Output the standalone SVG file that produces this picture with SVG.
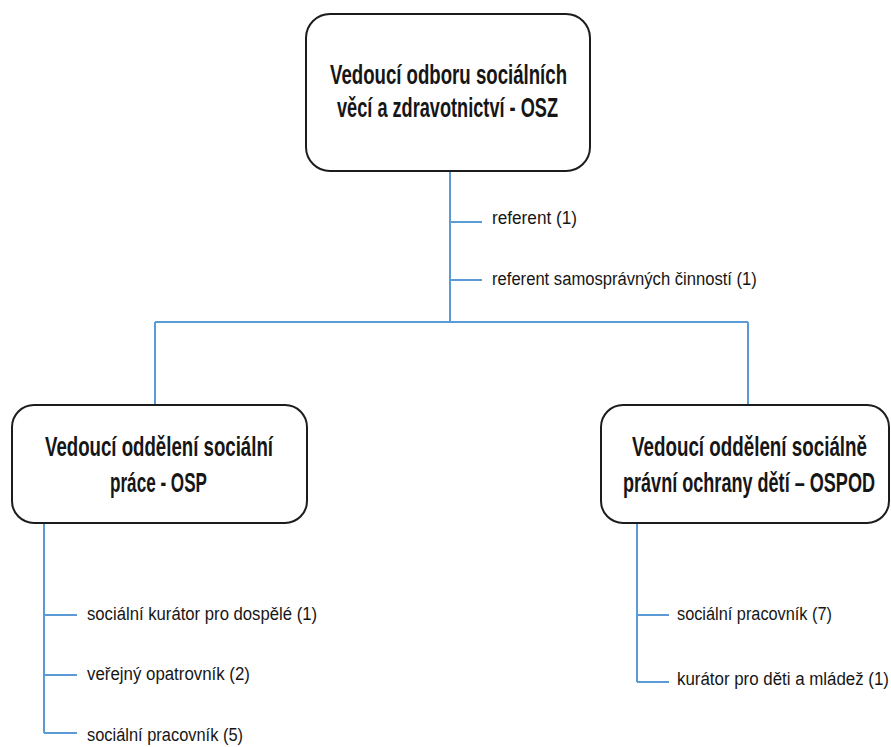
<svg xmlns="http://www.w3.org/2000/svg" width="891" height="747" viewBox="0 0 891 747">
<style>
.box{fill:#ffffff;stroke:#1c1c1c;stroke-width:2}
.h{font-family:"Liberation Sans",Arial,sans-serif;font-weight:bold;font-size:27px;fill:#161616}
.l{font-family:"Liberation Sans",Arial,sans-serif;font-size:19px;fill:#161616}
.c{fill:none;stroke:#5b9bd5;stroke-width:2}
</style>
<rect width="891" height="747" fill="#ffffff"/>
<g id="connectors">
<path class="c" d="M450 172V323M155 322H748M155 322V405M748 322V405M450 222H482M450 280H482"/>
<path class="c" d="M44 523V733M44 615H77M44 675H77M44 733H77"/>
<path class="c" d="M637 523V682M637 615H669M637 682H669"/>
</g>
<g id="node-osz">
<rect class="box" x="306" y="14" width="284" height="157" rx="24"/>
<text class="h" transform="translate(330 84) scale(0.7 1)" textLength="338.6" lengthAdjust="spacingAndGlyphs">Vedoucí odboru sociálních</text>
<text class="h" transform="translate(337 117) scale(0.7 1)" textLength="315.7" lengthAdjust="spacingAndGlyphs">věcí a zdravotnictví - OSZ</text>
</g>
<g id="node-osp">
<rect class="box" x="12" y="405" width="295" height="118" rx="22"/>
<text class="h" transform="translate(45 456) scale(0.7 1)" textLength="325.7" lengthAdjust="spacingAndGlyphs">Vedoucí oddělení sociální</text>
<text class="h" transform="translate(110 492) scale(0.7 1)" textLength="138.6" lengthAdjust="spacingAndGlyphs">práce - OSP</text>
</g>
<g id="node-ospod">
<rect class="box" x="601" y="405" width="288" height="118" rx="22"/>
<text class="h" transform="translate(632 456) scale(0.7 1)" textLength="335.7" lengthAdjust="spacingAndGlyphs">Vedoucí oddělení sociálně</text>
<text class="h" transform="translate(623 492) scale(0.7 1)" textLength="360" lengthAdjust="spacingAndGlyphs">právní ochrany dětí – OSPOD</text>
</g>
<g id="labels-osz">
<text class="l" transform="translate(492 224) scale(0.88 1)" textLength="96.6" lengthAdjust="spacingAndGlyphs">referent (1)</text>
<text class="l" transform="translate(492 285) scale(0.88 1)" textLength="301" lengthAdjust="spacingAndGlyphs">referent samosprávných činností (1)</text>
</g>
<g id="labels-osp">
<text class="l" transform="translate(87 620) scale(0.88 1)" textLength="261.4" lengthAdjust="spacingAndGlyphs">sociální kurátor pro dospělé (1)</text>
<text class="l" transform="translate(87 680) scale(0.88 1)" textLength="185.2" lengthAdjust="spacingAndGlyphs">veřejný opatrovník (2)</text>
<text class="l" transform="translate(87 741) scale(0.88 1)" textLength="177.3" lengthAdjust="spacingAndGlyphs">sociální pracovník (5)</text>
</g>
<g id="labels-ospod">
<text class="l" transform="translate(677 620) scale(0.88 1)" textLength="176.1" lengthAdjust="spacingAndGlyphs">sociální pracovník (7)</text>
<text class="l" transform="translate(677 685) scale(0.88 1)" textLength="240.9" lengthAdjust="spacingAndGlyphs">kurátor pro děti a mládež (1)</text>
</g>
</svg>
